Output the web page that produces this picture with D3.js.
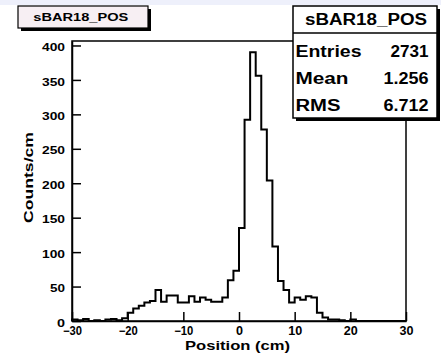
<!DOCTYPE html>
<html><head><meta charset="utf-8">
<script src="https://cdn.jsdelivr.net/npm/d3@7/dist/d3.min.js"></script>
<style>
body{margin:0;background:#fff}
svg{display:block}
text{font-family:"Liberation Sans",Arial,Helvetica,sans-serif;font-weight:bold;fill:#000}
</style>
</head><body>
<svg id="c" width="441" height="356"></svg>
<script>
// ---- data ----
const binLowEdges = [-30,-29,-28,-27,-26,-25,-24,-23,-22,-21,
  -20,-19,-18,-17,-16,-15,-14,-13,-12,-11,
  -10,-9,-8,-7,-6,-5,-4,-3,-2,-1,
  0,1,2,3,4,5,6,7,8,9,
  10,11,12,13,14,15,16,17,18,19,
  20,21,22,23,24,25,26,27,28,29];
const binWidth = 1;
const counts = [2,1,3,0,1,0,2,3,1,4,
  12,18,22,27,29,45,28,37,37,27,
  27,36,28,34,31,28,28,34,59,73,
  135,292,390,356,278,204,108,58,45,27,
  34,31,36,34,12,5,2,2,1,0,
  2,0,0,0,0,0,0,0,0,0];
const xMajorTicks = [-30,-20,-10,0,10,20,30];
const xMinorTicks = [-28,-26,-24,-22,-18,-16,-14,-12,-8,-6,-4,-2,2,4,6,8,12,14,16,18,22,24,26,28];
const yMajorTicks = [0,50,100,150,200,250,300,350,400];
const yMinorTicks = [10,20,30,40,60,70,80,90,110,120,130,140,160,170,180,190,210,220,230,240,260,270,280,290,310,320,330,340,360,370,380,390];
const histTitle = "sBAR18_POS";
const statNames = ["Entries","Mean","RMS"];
const statValues = ["2731","1.256","6.712"];
const xTitle = "Position (cm)";
const yTitle = "Counts/cm";

// ---- layout ----
const svg = d3.select("#c");
const L = 72, R = 406, T = 41, B = 321;
const x = d3.scaleLinear().domain([-30,30]).range([L,R]);
const y = d3.scaleLinear().domain([0,406.5]).range([B,T]);

svg.append("rect").attr("x",0).attr("y",0).attr("width",441).attr("height",5).attr("fill","#eef0fb");

// histogram path
const pts = [[x(binLowEdges[0]), y(0)]];
binLowEdges.forEach((e,i)=>{
  pts.push([x(e), y(counts[i])]);
  pts.push([x(e+binWidth), y(counts[i])]);
});
pts.push([x(binLowEdges[binLowEdges.length-1]+binWidth), y(0)]);
svg.append("path").attr("d", d3.line()(pts))
  .attr("fill","none").attr("stroke","#000").attr("stroke-width",2).attr("stroke-linejoin","miter");

// frame
svg.append("rect").attr("x",L).attr("y",T).attr("width",R-L).attr("height",B-T)
  .attr("fill","none").attr("stroke","#000").attr("stroke-width",1.5);

// x axis
const gx = svg.append("g").attr("transform",`translate(0,${B})`);
gx.call(d3.axisBottom(x).tickValues(xMinorTicks).tickSize(-5).tickSizeOuter(0).tickFormat(""));
gx.call(d3.axisBottom(x).tickValues(xMajorTicks).tickSize(-9).tickSizeOuter(0).tickPadding(5.5));
gx.selectAll("path.domain").attr("stroke-width",1.5);
gx.selectAll("line").attr("stroke-width",1.5);
gx.selectAll("text").attr("font-size",12).attr("font-family",null)
  .attr("textLength",d=>d<0?19:(d===0?7:14)).attr("lengthAdjust","spacingAndGlyphs");

// y axis
const gy = svg.append("g").attr("transform",`translate(${L},0)`);
gy.call(d3.axisLeft(y).tickValues(yMinorTicks).tickSize(-5).tickSizeOuter(0).tickFormat(""));
gy.call(d3.axisLeft(y).tickValues(yMajorTicks).tickSize(-9).tickSizeOuter(0).tickPadding(7));
gy.selectAll("path.domain").attr("stroke-width",1.5);
gy.selectAll("line").attr("stroke-width",1.5);
gy.selectAll("text").attr("font-size",11).attr("font-family",null).attr("dy","0.47em")
  .attr("textLength",d=>d>=100?23:(d>0?15:8)).attr("lengthAdjust","spacingAndGlyphs");

// axis titles
svg.append("text").attr("x",(185+290)/2).attr("y",350).attr("text-anchor","middle")
  .attr("font-size",13).attr("textLength",105).attr("lengthAdjust","spacingAndGlyphs").text(xTitle);
svg.append("text").attr("transform",`translate(33,177.5) rotate(-90)`).attr("text-anchor","middle")
  .attr("font-size",12).attr("textLength",91).attr("lengthAdjust","spacingAndGlyphs").text(yTitle);

// title box
svg.append("rect").attr("x",21).attr("y",9).attr("width",130).attr("height",22).attr("fill","#000");
svg.append("rect").attr("x",18).attr("y",6).attr("width",130).attr("height",22)
  .attr("fill","#f7eff3").attr("stroke","#000").attr("stroke-width",1.2);
svg.append("text").attr("x",80.8).attr("y",20.5).attr("text-anchor","middle")
  .attr("font-size",10).attr("textLength",95).attr("lengthAdjust","spacingAndGlyphs").text(histTitle);

// stats box
const sx = 293, sy = 6, sw = 144, sh = 112;
svg.append("rect").attr("x",sx+3).attr("y",sy+3).attr("width",sw).attr("height",sh).attr("fill","#000");
svg.append("rect").attr("x",sx).attr("y",sy).attr("width",sw).attr("height",sh)
  .attr("fill","#fff").attr("stroke","#000").attr("stroke-width",1.5);
svg.append("line").attr("x1",sx).attr("x2",sx+sw).attr("y1",33).attr("y2",33).attr("stroke","#000").attr("stroke-width",1.5);
svg.append("text").attr("x",366).attr("y",25).attr("text-anchor","middle")
  .attr("font-size",16).attr("textLength",122).attr("lengthAdjust","spacingAndGlyphs").text(histTitle);
const rowY = [57, 84, 110.5];
const nameLen = [66,53,45];
const valLen = [38,45,45];
statNames.forEach((n,i)=>{
  svg.append("text").attr("x",295.5).attr("y",rowY[i]).attr("font-size",16)
    .attr("textLength",nameLen[i]).attr("lengthAdjust","spacingAndGlyphs").text(n);
  svg.append("text").attr("x",428.5).attr("y",rowY[i]).attr("font-size",16).attr("text-anchor","end")
    .attr("textLength",valLen[i]).attr("lengthAdjust","spacingAndGlyphs").text(statValues[i]);
});
</script>
</body></html>
